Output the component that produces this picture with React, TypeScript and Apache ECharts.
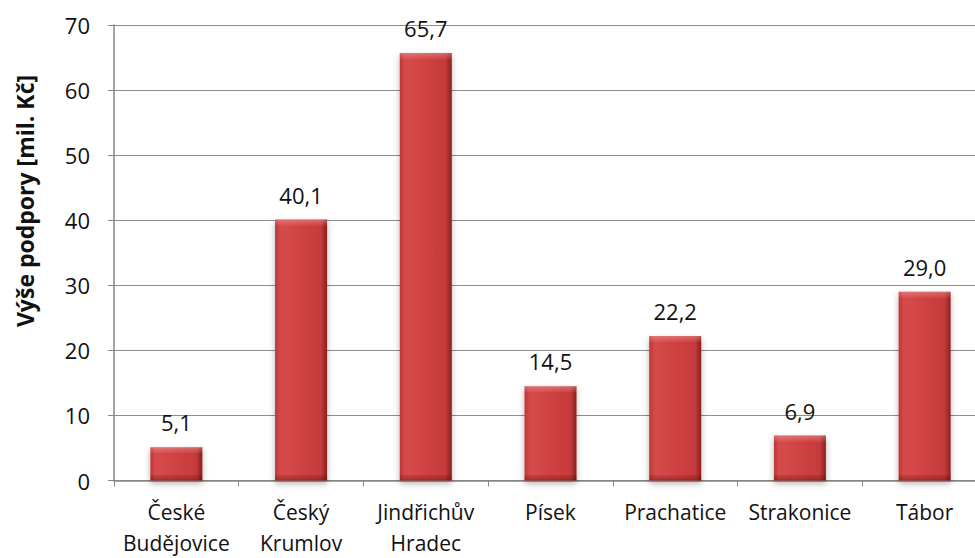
import React, { useEffect, useRef } from "react";
import * as echarts from "echarts";

const categories = ["České\nBudějovice", "Český\nKrumlov", "Jindřichův\nHradec", "Písek", "Prachatice", "Strakonice", "Tábor"];
const values = [5.1, 40.1, 65.7, 14.5, 22.2, 6.9, 29.0];
const yTicks = { min: 0, max: 70, interval: 10 };
const yTitle = "Výše podpory [mil. Kč]";

export default function App() {
  const ref = useRef<HTMLDivElement>(null);
  useEffect(() => {
    const chart = echarts.init(ref.current!, null, { renderer: "svg" });
    const font = "Open Sans, Lato, sans-serif";
    const plotH = 455.5;
    const pxPerUnit = plotH / (yTicks.max - yTicks.min);
    const bevelData = values.map((v) => {
      const h = Math.max(v * pxPerUnit, 1);
      const t = Math.min(6 / h, 0.4);
      const b = Math.min(5 / h, 0.4);
      return {
        value: v,
        itemStyle: {
          color: new echarts.graphic.LinearGradient(0, 0, 0, 1, [
            { offset: 0, color: "rgba(255,200,200,0.35)" },
            { offset: t, color: "rgba(255,170,170,0.08)" },
            { offset: t + 0.0001, color: "rgba(255,255,255,0)" },
            { offset: 1 - b - 0.0001, color: "rgba(0,0,0,0)" },
            { offset: 1 - b, color: "rgba(70,0,0,0.12)" },
            { offset: 1, color: "rgba(60,0,0,0.35)" },
          ]),
        },
      };
    });
    chart.setOption({
      animation: false,
      backgroundColor: "#ffffff",
      grid: { left: 114, right: 0, top: 25, bottom: 77.5, containLabel: false, outerBoundsMode: "none" },
      graphic: [
        {
          type: "text",
          x: 25,
          y: 201,
          rotation: Math.PI / 2,
          style: {
            text: yTitle,
            fontFamily: font,
            fontSize: 23,
            fontWeight: "bold",
            fill: "#111",
            align: "center",
            verticalAlign: "middle",
          },
        },
      ],
      xAxis: {
        type: "category",
        data: categories,
        axisLine: { lineStyle: { color: "#868686", width: 1.5 } },
        axisTick: { show: true, length: 6, lineStyle: { color: "#868686" } },
        axisLabel: {
          color: "#111",
          fontFamily: font,
          fontSize: 21,
          lineHeight: 31,
          margin: 16,
          interval: 0,
        },
      },
      yAxis: {
        type: "value",
        min: yTicks.min,
        max: yTicks.max,
        interval: yTicks.interval,
        axisLine: { show: true, lineStyle: { color: "#868686", width: 1.5 } },
        axisTick: { show: true, length: 6, lineStyle: { color: "#868686" } },
        axisLabel: { color: "#111", fontFamily: font, fontSize: 22, margin: 24 },
        splitLine: { lineStyle: { color: "#8c8c8c", width: 1.2 } },
      },
      series: [
        {
          type: "bar",
          data: values,
          barWidth: 52,
          z: 2,
          itemStyle: {
            color: new echarts.graphic.LinearGradient(0, 0, 1, 0, [
              { offset: 0, color: "#bb3636" },
              { offset: 0.1, color: "#d64a4a" },
              { offset: 0.5, color: "#d04242" },
              { offset: 0.88, color: "#c53a3a" },
              { offset: 1, color: "#8a2020" },
            ]),
            shadowBlur: 6,
            shadowColor: "rgba(0,0,0,0.3)",
            shadowOffsetY: 3,
          },
          label: {
            show: true,
            position: "top",
            distance: 14,
            fontFamily: font,
            fontSize: 22,
            color: "#111",
            formatter: (p: any) => p.value.toFixed(1).replace(".", ","),
          },
        },
        {
          type: "bar",
          data: bevelData,
          barWidth: 52,
          barGap: "-100%",
          z: 3,
          silent: true,
          label: { show: false },
        },
      ],
    });
    return () => chart.dispose();
  }, []);
  return (
    <div style={{ position: "absolute", left: 0, top: 0, width: 975, height: 558, overflow: "hidden" }}>
      <div ref={ref} style={{ width: 987, height: 558 }} />
    </div>
  );
}
